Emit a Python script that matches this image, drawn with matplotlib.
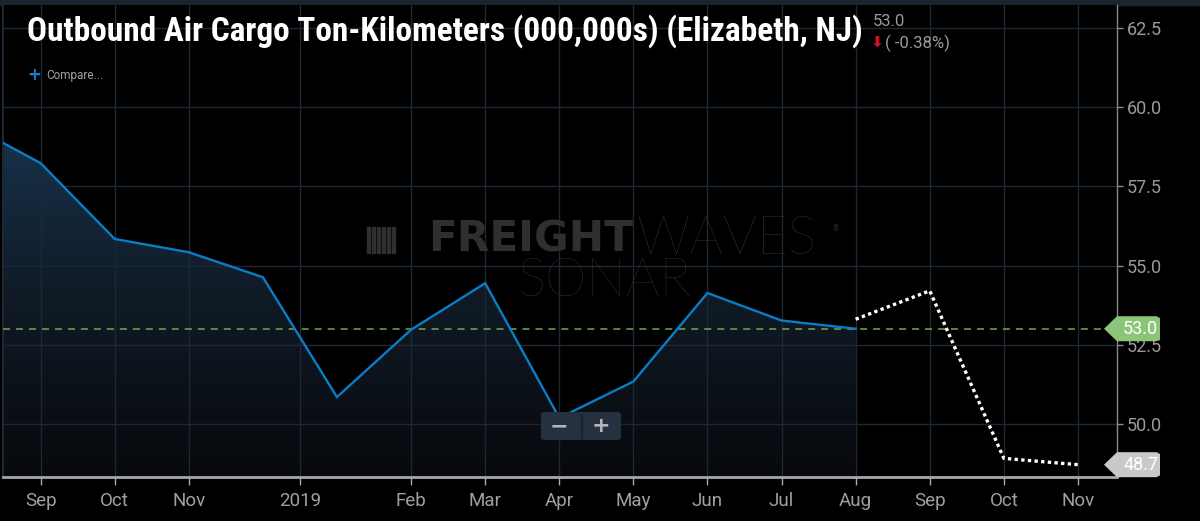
import numpy as np
import matplotlib
matplotlib.use("Agg")
import matplotlib.pyplot as plt
from matplotlib import font_manager
from matplotlib.patches import Polygon, FancyBboxPatch, Rectangle
from matplotlib.transforms import blended_transform_factory

# ------------------------------------------------------------
# Data (month index: 0 = Sep 2018)
# ------------------------------------------------------------
hist_x = [-1, 0, 1, 2, 3, 4, 5, 6, 7, 8, 9, 10, 11]
hist_y = [59.5, 58.24, 55.84, 55.42, 54.63, 50.84, 52.97, 54.44, 50.18, 51.33, 54.13, 53.26, 53.0]
fcst_x = [11, 12, 13, 14]
fcst_y = [53.3, 54.2, 48.9, 48.7]
last_value = 53.0
fcst_last = 48.7
tick_x = [0, 1, 2, 3.5, 5, 6, 7, 8, 9, 10, 11, 12, 13, 14]
tick_labels = ["Sep", "Oct", "Nov", "2019", "Feb", "Mar", "Apr", "May", "Jun",
               "Jul", "Aug", "Sep", "Oct", "Nov"]
y_ticks = [50.0, 52.5, 55.0, 57.5, 60.0, 62.5]

GRID = "#1c2834"
BLUE = "#0a7dc8"
GREEN = "#8cc57a"
WM = "#2f2f2f"

installed = {f.name for f in font_manager.fontManager.ttflist}
NARROW = "Roboto"
for cand in ["Roboto Condensed", "Liberation Sans Narrow", "Open Sans Condensed"]:
    if cand in installed:
        NARROW = cand
        break

W, H = 1200, 521
fig = plt.figure(figsize=(W / 100, H / 100), dpi=100, facecolor="black")
renderer = fig.canvas.get_renderer()

def fit_width(t, target_px):
    # scale a text's font size so it spans target_px
    w = t.get_window_extent(renderer).width
    t.set_fontsize(t.get_fontsize() * target_px / w)

ax = fig.add_axes([3 / W, (H - 476.7) / H, 1114 / W, (476.7 - 5) / H])
ax.set_facecolor("black")
ax.set_xlim(-0.507, 14.527)
ax.set_ylim(48.32, 63.24)

ax.set_xticks(tick_x)
ax.set_xticklabels(tick_labels)
ax.set_yticks(y_ticks)
ax.set_yticklabels([f"{v:.1f}" for v in y_ticks])
ax.grid(True, color=GRID, lw=1.0, zorder=0)
ax.yaxis.tick_right()
ax.spines["top"].set_visible(False)
ax.spines["left"].set_color(GRID)
ax.spines["left"].set_linewidth(1.5)
ax.spines["right"].set_color("#8a8a8a")
ax.spines["right"].set_linewidth(1.0)
ax.spines["bottom"].set_color("#a8a8a8")
ax.spines["bottom"].set_linewidth(2.0)
ax.tick_params(axis="x", colors="#a8a8a8", length=6, width=1, pad=5, labelsize=13.5)
ax.tick_params(axis="y", colors="#8a8a8a", length=4, width=1, pad=3,
               labelsize=13, labelcolor="#9a9a9a")
for lab in ax.get_xticklabels():
    lab.set_family("Roboto")
    lab.set_color("#a0a0a0")
for lab in ax.get_yticklabels():
    lab.set_family("Roboto")

# watermark
t1 = fig.text(633 / W, 1 - 240 / H, "FREIGHT", ha="right", va="center",
              fontsize=27, fontweight="bold", family="DejaVu Sans", color=WM, zorder=1)
t2 = fig.text(636 / W, 1 - 240 / H, "WAVES", ha="left", va="center",
              fontsize=27, fontweight="light", family="Lato", color=WM, zorder=1)
t3 = fig.text(604 / W, 1 - 282 / H, "SONAR", ha="center", va="center",
              fontsize=30, fontweight="light", family="Lato", color=WM, zorder=1)
fit_width(t1, 205)
fit_width(t2, 180)
t3.set_fontsize(min(t3.get_fontsize() * 222 / t3.get_window_extent(renderer).width, 38))
fig.text(836 / W, 1 - 229 / H, "®", ha="center", va="center", fontsize=6, color=WM, zorder=1)
for i in range(6):
    fig.add_artist(Rectangle(((367 + i * 5) / W, (H - 253) / H), 2.5 / W, 26 / H,
                             color=WM, zorder=1))

# gradient fill under the history line
grad = np.linspace(0, 1, 256).reshape(-1, 1)
cmap = matplotlib.colors.LinearSegmentedColormap.from_list(
    "fill", ["#08090c", "#101b27", "#173651"])
im = ax.imshow(grad, cmap=cmap, aspect="auto", origin="lower",
               extent=[-1, 11, 48.32, 60.0], zorder=1)
poly = ax.fill_between(hist_x, hist_y, 48.32, color="none", lw=0)
clip = Polygon(poly.get_paths()[0].vertices, closed=True, transform=ax.transData)
im.set_clip_path(clip)

ax.plot(hist_x, hist_y, color=BLUE, lw=1.7, zorder=4, solid_joinstyle="miter")
ax.plot(fcst_x, fcst_y, color="white", lw=2.4, ls=(0, (1, 1)), zorder=4,
        dash_capstyle="butt")
ax.axhline(last_value, color="#72a850", lw=1.1, ls=(0, (4.6, 3.9)), zorder=3)

# price tags on the right axis
bt = blended_transform_factory(ax.transAxes, ax.transData)
def tag(value, face, txtcolor):
    x0, x1, xn = (1104 - 3) / 1114, (1160 - 3) / 1114, (1117 - 3) / 1114
    h = 12.5 / 31.6
    r = 0.15 * h
    pts = [(x0, value), (xn, value + h), (x1 - 0.003, value + h), (x1, value + h - r),
           (x1, value - h + r), (x1 - 0.003, value - h), (xn, value - h)]
    ax.add_patch(Polygon(pts, closed=True, transform=bt, facecolor=face,
                         edgecolor="none", clip_on=False, zorder=6))
    ax.text((xn + x1) / 2 + 0.002, value, f"{value:.1f}", transform=bt, ha="center",
            va="center", fontsize=13, color=txtcolor, family="Roboto",
            clip_on=False, zorder=7)

tag(last_value, GREEN, "white")
tag(fcst_last, "#c9c9c9", "white")

# zoom control
fig.add_artist(FancyBboxPatch((541 / W, (H - 440) / H), 80 / W, 28 / H,
                              boxstyle="round,pad=0,rounding_size=0.004",
                              facecolor="#25313e", edgecolor="none", zorder=8))
fig.add_artist(Rectangle((581 / W, (H - 438) / H), 1 / W, 24 / H, color="#1a242e", zorder=9))
fig.text(559 / W, 1 - 426 / H, "−", ha="center", va="center", fontsize=16,
         fontweight="bold", color="#b5b5b5", zorder=10)
fig.text(601 / W, 1 - 426 / H, "+", ha="center", va="center", fontsize=16,
         fontweight="bold", color="#b5b5b5", zorder=10)

# header
fig.add_artist(Rectangle((0, 1 - 5 / H), 1, 5 / H, color="#1b2430", zorder=0))
title = fig.text(27 / W, 1 - 31 / H,
                 "Outbound Air Cargo Ton-Kilometers (000,000s) (Elizabeth, NJ)",
                 ha="left", va="center", fontsize=21, fontweight="bold",
                 family=NARROW, color="white")
fit_width(title, 835)
fig.text(873 / W, 1 - 21 / H, f"{last_value:.1f}", ha="left", va="center",
         fontsize=12, family="Roboto", color="#9a9a9a")
fig.text(871 / W, 1 - 43 / H, "⬇", ha="left", va="center", fontsize=11,
         fontweight="bold", family="DejaVu Sans", color="#d0102a")
fig.text(885 / W, 1 - 43 / H, "( -0.38%)", ha="left", va="center", fontsize=12,
         family="Roboto", color="#9a9a9a")
fig.text(27 / W, 1 - 75 / H, "+", ha="left", va="center", fontsize=12,
         fontweight="bold", color="#1a7ccb")
fig.text(46 / W, 1 - 75 / H, "Compare...", ha="left", va="center", fontsize=8.5,
         family="Roboto", color="#a0a0a0")

fig.savefig("out.png", dpi=100, facecolor="black")
